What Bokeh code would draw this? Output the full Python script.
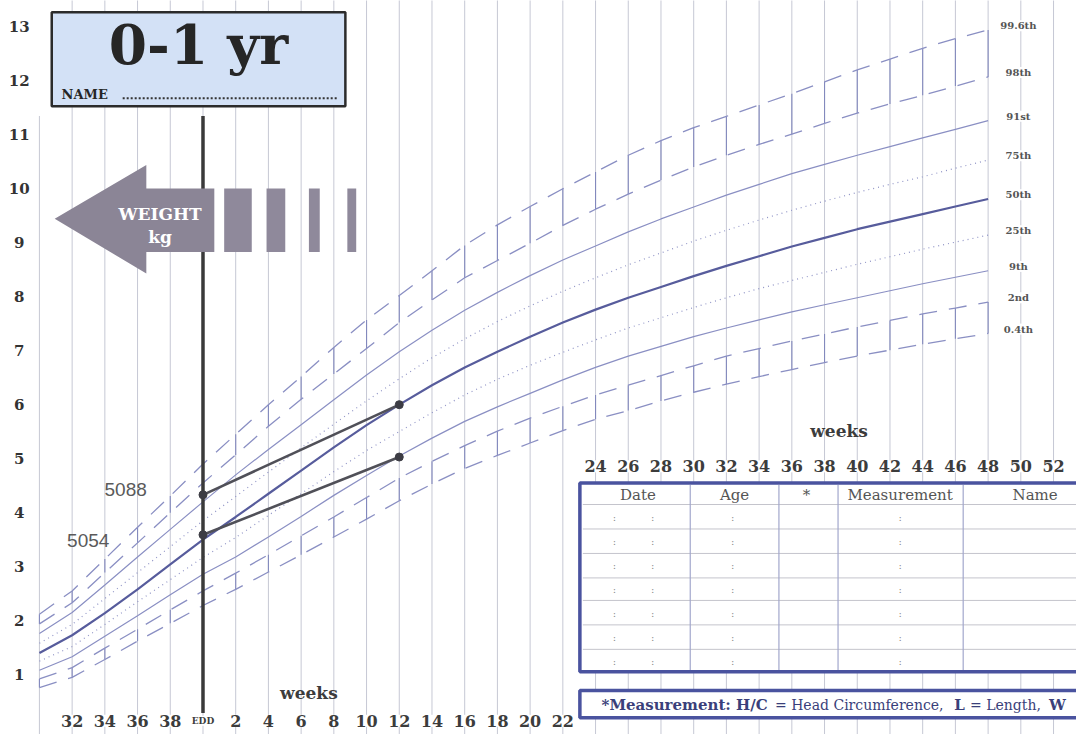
from bokeh.plotting import figure
from bokeh.models import Range1d
from bokeh.core.properties import value
from bokeh.embed import file_html
from bokeh.resources import INLINE

# ---------------- data (weeks relative to EDD, weight in kg) ----------------
weeks = [-10, -8, -6, -4, -2, 0, 2, 4, 6, 8, 10, 12, 14, 16, 18, 20, 22, 24,
         26, 28, 30, 32, 34, 36, 38, 40, 42, 44, 46, 48]

c0_4 = [0.76, 0.95, 1.28, 1.62, 1.95, 2.28, 2.58, 2.90, 3.22, 3.55, 3.88, 4.22, 4.53, 4.82, 5.06,
        5.29, 5.52, 5.73, 5.89, 6.07, 6.23, 6.38, 6.52, 6.65, 6.78, 6.90, 7.01, 7.12, 7.22, 7.32]
c2 = [0.92, 1.13, 1.49, 1.84, 2.20, 2.55, 2.88, 3.22, 3.57, 3.92, 4.28, 4.64, 4.95, 5.24, 5.51,
      5.75, 5.97, 6.18, 6.36, 6.54, 6.72, 6.90, 7.04, 7.18, 7.31, 7.44, 7.56, 7.68, 7.79, 7.90]
c9 = [1.08, 1.33, 1.71, 2.09, 2.48, 2.86, 3.18, 3.55, 3.93, 4.32, 4.69, 5.05, 5.38, 5.69, 5.96,
      6.21, 6.46, 6.69, 6.90, 7.08, 7.26, 7.42, 7.57, 7.72, 7.85, 7.98, 8.11, 8.24, 8.36, 8.48]
c25 = [1.25, 1.52, 1.93, 2.35, 2.76, 3.17, 3.54, 3.95, 4.35, 4.76, 5.15, 5.50, 5.85, 6.18, 6.47,
       6.73, 6.97, 7.20, 7.42, 7.61, 7.80, 7.98, 8.15, 8.30, 8.45, 8.60, 8.74, 8.88, 9.01, 9.14]
c50 = [1.40, 1.73, 2.14, 2.58, 3.04, 3.50, 3.92, 4.35, 4.78, 5.21, 5.62, 6.00, 6.36, 6.69, 6.98,
       7.26, 7.52, 7.76, 7.98, 8.18, 8.38, 8.57, 8.75, 8.93, 9.09, 9.25, 9.39, 9.53, 9.67, 9.81]
c75 = [1.58, 1.93, 2.41, 2.89, 3.37, 3.85, 4.30, 4.75, 5.20, 5.64, 6.07, 6.48, 6.87, 7.22, 7.54,
       7.83, 8.10, 8.35, 8.59, 8.81, 9.03, 9.23, 9.42, 9.60, 9.77, 9.93, 10.08, 10.22, 10.38, 10.53]
c91 = [1.76, 2.15, 2.66, 3.18, 3.69, 4.20, 4.70, 5.17, 5.63, 6.09, 6.55, 6.98, 7.38, 7.75, 8.08,
       8.39, 8.68, 8.94, 9.20, 9.44, 9.66, 9.88, 10.08, 10.28, 10.45, 10.62, 10.78, 10.94, 11.10, 11.26]
c98 = [1.94, 2.33, 2.89, 3.44, 4.00, 4.55, 5.07, 5.60, 6.10, 6.57, 7.04, 7.52, 7.94, 8.35, 8.67,
       8.99, 9.32, 9.62, 9.90, 10.16, 10.40, 10.62, 10.82, 11.01, 11.21, 11.40, 11.57, 11.73, 11.90, 12.07]
c99_6 = [2.12, 2.55, 3.14, 3.73, 4.31, 4.90, 5.45, 6.00, 6.52, 7.06, 7.57, 8.02, 8.48, 8.95, 9.33,
         9.67, 10.00, 10.31, 10.62, 10.89, 11.13, 11.34, 11.55, 11.76, 11.98, 12.20, 12.40, 12.60, 12.78, 12.94]

centile_labels = ["0.4th", "2nd", "9th", "25th", "50th", "75th", "91st", "98th", "99.6th"]
centile_values = [c0_4, c2, c9, c25, c50, c75, c91, c98, c99_6]
centile_styles = ["dashed", "dashed", "thin", "dotted", "main", "dotted", "thin", "dashed", "dashed"]

patient_ids = ["5088", "5054"]
patient_weeks = [0, 12]
patient_weights = [[4.33, 6.00], [3.59, 5.03]]

weight_ticks = [1, 2, 3, 4, 5, 6, 7, 8, 9, 10, 11, 12, 13]
lower_week_ticks = [-8, -6, -4, -2, 0, 2, 4, 6, 8, 10, 12, 14, 16, 18, 20, 22]
lower_week_labels = ["32", "34", "36", "38", "EDD", "2", "4", "6", "8", "10", "12", "14",
                     "16", "18", "20", "22"]
upper_week_ticks = [24, 26, 28, 30, 32, 34, 36, 38, 40, 42, 44, 46, 48, 50, 52]
upper_week_labels = [str(t) for t in upper_week_ticks]
grid_weeks = list(range(-10, 53, 2))

table_headers = ["Date", "Age", "*", "Measurement", "Name"]

# ---------------- layout helpers (reference pixel -> data units) ----------------
EDD_PX, PX_WEEK, ZERO_PY, PX_KG = 205.5, 16.6, 744.0, 55.17


def wx(px):
    return (px - EDD_PX) / PX_WEEK


def ky(py):
    return (ZERO_PY - py) / PX_KG


SERIF = value("DejaVu Serif")
LINE_C = "#8a8fc3"
MAIN_C = "#575c9c"
BLUE = "#4a539f"

p = figure(width=1076, height=734, x_range=Range1d(wx(0), wx(1092)),
           y_range=Range1d(ky(750), ky(0)), output_backend="svg",
           toolbar_location=None, x_axis_type=None, y_axis_type=None, min_border=0)
p.grid.visible = False
p.outline_line_color = None
p.background_fill_color = "white"
p.border_fill_color = "white"

# vertical grid (the first line starts below the title box)
grid_top = [ky(118) if w == grid_weeks[0] else 15 for w in grid_weeks]
p.segment(x0=grid_weeks, x1=grid_weeks, y0=-1, y1=grid_top, line_color="#c6c8d4", line_width=1)

# darker grid segments inside the outer bands
p.segment(x0=weeks, x1=weeks, y0=c98, y1=c99_6, line_color="#8389bd", line_width=1.1)
p.segment(x0=weeks, x1=weeks, y0=c0_4, y1=c2, line_color="#8389bd", line_width=1.1)

# centile curves
for vals, style in zip(centile_values, centile_styles):
    if style == "main":
        p.line(weeks, vals, line_color=MAIN_C, line_width=2.2)
    elif style == "thin":
        p.line(weeks, vals, line_color=LINE_C, line_width=1.2)
    elif style == "dotted":
        p.line(weeks, vals, line_color="#9094c6", line_width=1.2, line_dash="1 4")
    else:
        p.line(weeks, vals, line_color=LINE_C, line_width=1.3, line_dash="18 12")

# centile labels at the curve ends
p.text(x=[wx(1033)] * len(centile_labels), y=[v[-1] + 0.08 for v in centile_values],
       text=centile_labels, text_font=SERIF, text_font_style="bold", text_font_size="10px",
       text_color="#555555", text_align="center", text_baseline="middle",
       background_fill_color="white")

# EDD line
p.segment(x0=[0], x1=[0], y0=[ky(728)], y1=[ky(118)], line_color="#3a3a3a", line_width=3.5)

# patient data
for wts in patient_weights:
    p.line(patient_weeks, wts, line_color="#505058", line_width=2.6)
    p.scatter(patient_weeks, wts, size=8, fill_color="#3c3c44", line_color="#3c3c44")
p.text(x=[wx(127), wx(89)], y=[ky(500), ky(552)], text=patient_ids,
       text_font=value("Liberation Sans"), text_font_size="19px", text_color="#5a5a5a",
       text_align="center", text_baseline="middle")

# title box
p.quad(left=wx(52), right=wx(350), top=ky(12), bottom=ky(108), fill_color="#d3e1f6",
       line_color="#2b2b2b", line_width=2.5)
p.text(x=[wx(201)], y=[ky(45)], text=["0-1 yr"], text_font=SERIF, text_font_style="bold",
       text_font_size="55px", text_color="#262626", text_align="center", text_baseline="middle")
p.text(x=[wx(62)], y=[ky(96)], text=["NAME"], text_font=SERIF, text_font_style="bold",
       text_font_size="13px", text_color="#262626", text_align="left", text_baseline="middle")
p.segment(x0=[wx(124)], x1=[wx(342)], y0=[ky(100)], y1=[ky(100)], line_color="#333333",
          line_width=2, line_dash="2 2")

# weight arrow
arrow_c = "#8b8596"
p.patch(x=[wx(55), wx(148), wx(148), wx(217), wx(217), wx(148), wx(148)],
        y=[ky(223), ky(168), ky(192), ky(192), ky(257), ky(257), ky(279)],
        fill_color=arrow_c, line_color=None)
p.quad(left=[wx(227), wx(270), wx(313), wx(352)], right=[wx(255), wx(289), wx(324), wx(361)],
       top=ky(192), bottom=ky(257), fill_color="#8f899b", line_color=None)
p.text(x=[wx(162), wx(162)], y=[ky(218), ky(242)], text=["WEIGHT", "kg"], text_font=SERIF,
       text_font_style="bold", text_font_size="17px", text_color="white",
       text_align="center", text_baseline="middle")

# weight tick labels
p.text(x=[wx(19)] * len(weight_ticks), y=weight_ticks, text=[str(t) for t in weight_ticks],
       text_font=SERIF, text_font_style="bold", text_font_size="15px", text_color="#333333",
       text_align="center", text_baseline="middle")

# week tick labels
sizes = ["9px" if lab == "EDD" else "16px" for lab in lower_week_labels]
for t, lab, s in zip(lower_week_ticks, lower_week_labels, sizes):
    p.text(x=[t], y=[ky(736)], text=[lab], text_font=SERIF, text_font_style="bold",
           text_font_size=s, text_color="#3c3c3c", text_align="center",
           text_baseline="middle", background_fill_color="white")
p.text(x=upper_week_ticks, y=[ky(476)] * len(upper_week_ticks), text=upper_week_labels,
       text_font=SERIF, text_font_style="bold", text_font_size="16px", text_color="#3c3c3c",
       text_align="center", text_baseline="middle", background_fill_color="white")
p.text(x=[wx(313), wx(851)], y=[ky(708), ky(440)], text=["weeks", "weeks"], text_font=SERIF,
       text_font_style="bold", text_font_size="17px", text_color="#3c3c3c",
       text_align="center", text_baseline="middle")

# record table
p.quad(left=wx(588), right=wx(1300), top=ky(493), bottom=ky(686), fill_color="white",
       line_color=BLUE, line_width=3.5)
row_py = [515, 540, 565, 590, 613, 638, 663]
p.segment(x0=wx(591), x1=wx(1100), y0=[ky(r) for r in row_py], y1=[ky(r) for r in row_py],
          line_color="#c4c4cc", line_width=1)
col_px = [700, 790, 850, 977]
p.segment(x0=[wx(c) for c in col_px], x1=[wx(c) for c in col_px], y0=ky(495), y1=ky(684),
          line_color="#a2a7cc", line_width=1.2)
p.text(x=[wx(647), wx(745), wx(818), wx(913), wx(1050)], y=[ky(505)] * 5, text=table_headers,
       text_font=SERIF, text_font_size="15px", text_color="#555555", text_align="center",
       text_baseline="middle")
colon_x, colon_y = [], []
for r in [528, 553, 577, 602, 626, 651, 675]:
    for c in [623, 662, 743, 913]:
        colon_x.append(wx(c))
        colon_y.append(ky(r))
p.text(x=colon_x, y=colon_y, text=[":"] * len(colon_x), text_font=SERIF, text_font_size="10px",
       text_color="#8a8a8a", text_align="center", text_baseline="middle")

# footer box
p.quad(left=wx(588), right=wx(1300), top=ky(705), bottom=ky(733), fill_color="white",
       line_color=BLUE, line_width=3.5)
foot_parts = [("*Measurement: H/C", "bold", "15px", 610),
              ("= Head Circumference,", "normal", "14px", 786),
              ("L", "bold", "15px", 968), ("= Length,", "normal", "14px", 984),
              ("W", "bold", "15px", 1064)]
for txt, style, size, xpx in foot_parts:
    p.text(x=[wx(xpx)], y=[ky(720)], text=[txt], text_font=SERIF, text_font_style=style,
           text_font_size=size, text_color="#3a3f7a", text_align="left",
           text_baseline="middle")

open("out.html", "w").write(file_html(p, INLINE))
